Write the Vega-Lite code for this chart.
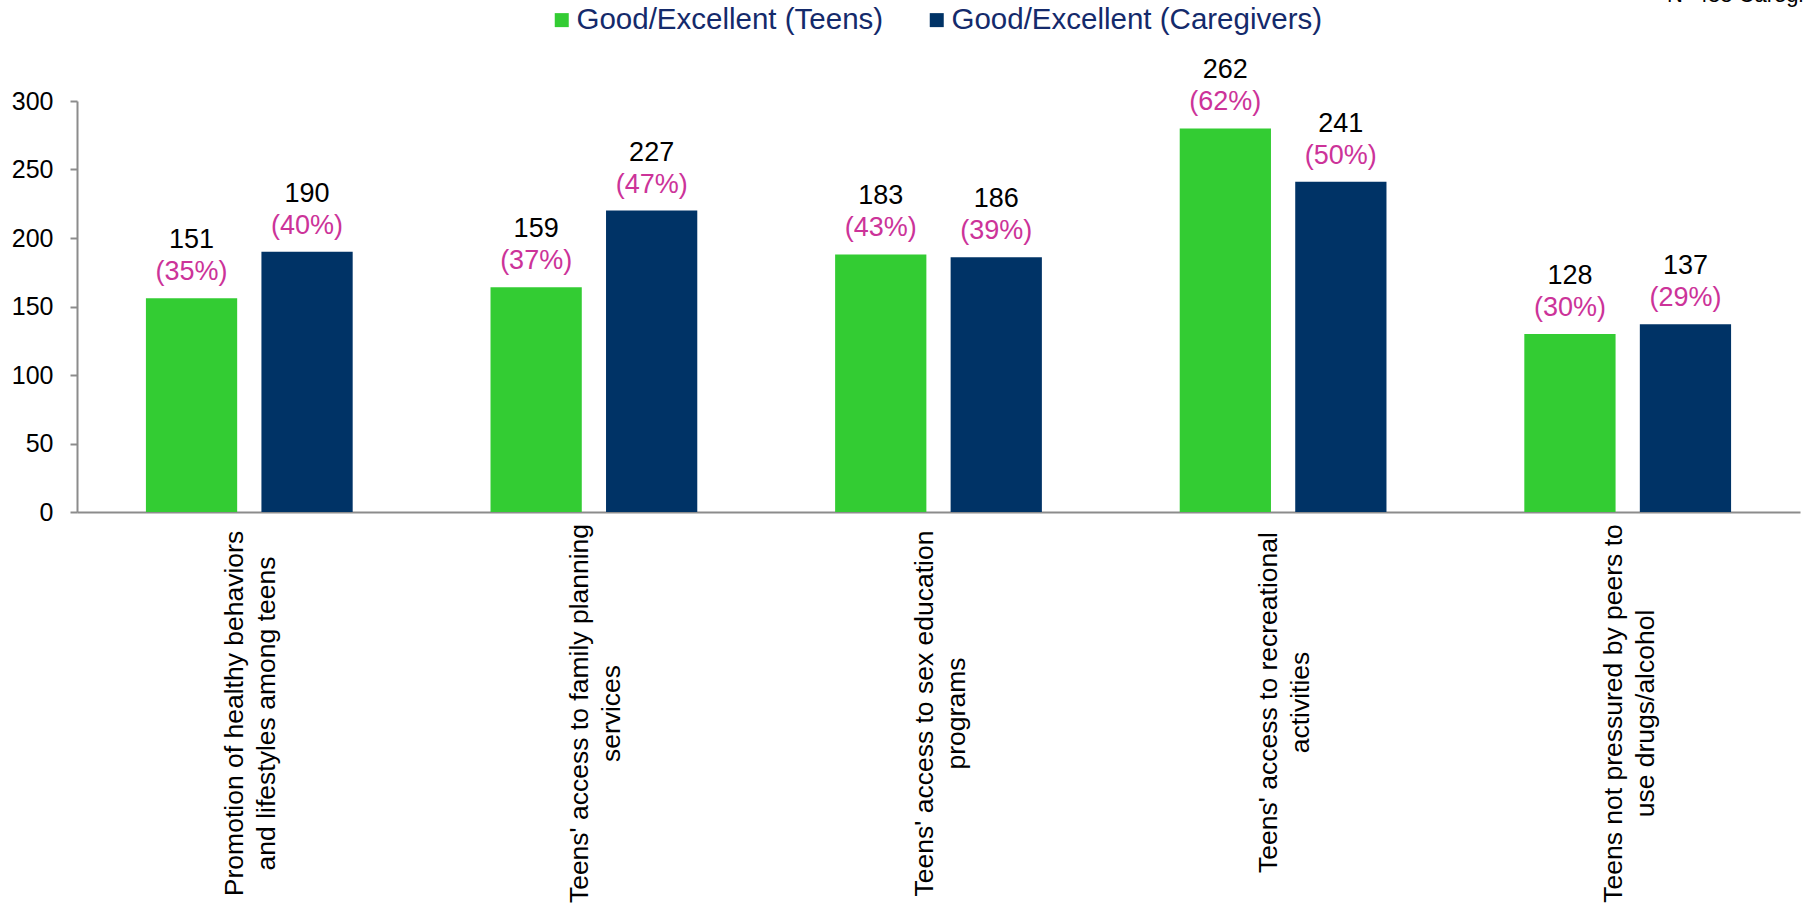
{
  "$schema": "https://vega.github.io/schema/vega-lite/v6.json",
  "width": 1723,
  "height": 411,
  "autosize": {"type": "none"},
  "padding": {"left": 77, "top": 101, "right": 6, "bottom": 401},
  "config": {
    "view": {"stroke": null},
    "font": "Liberation Sans, Arial, sans-serif"
  },
  "title": {
    "text": "N=488 Caregivers",
    "anchor": "end",
    "frame": "group",
    "align": "right",
    "dx": 45,
    "offset": -19,
    "fontSize": 22,
    "fontWeight": "normal",
    "color": "black",
    "baseline": "alphabetic"
  },
  "data": {
    "values": [
      {"category": "Promotion of healthy behaviors|and lifestyles among teens", "series": "Good/Excellent (Teens)", "value": 156, "n": "151", "pct": "(35%)"},
      {"category": "Promotion of healthy behaviors|and lifestyles among teens", "series": "Good/Excellent (Caregivers)", "value": 190, "n": "190", "pct": "(40%)"},
      {"category": "Teens' access to family planning|services", "series": "Good/Excellent (Teens)", "value": 164, "n": "159", "pct": "(37%)"},
      {"category": "Teens' access to family planning|services", "series": "Good/Excellent (Caregivers)", "value": 220, "n": "227", "pct": "(47%)"},
      {"category": "Teens' access to sex education|programs", "series": "Good/Excellent (Teens)", "value": 188, "n": "183", "pct": "(43%)"},
      {"category": "Teens' access to sex education|programs", "series": "Good/Excellent (Caregivers)", "value": 186, "n": "186", "pct": "(39%)"},
      {"category": "Teens' access to recreational|activities", "series": "Good/Excellent (Teens)", "value": 280, "n": "262", "pct": "(62%)"},
      {"category": "Teens' access to recreational|activities", "series": "Good/Excellent (Caregivers)", "value": 241, "n": "241", "pct": "(50%)"},
      {"category": "Teens not pressured by peers to|use drugs/alcohol", "series": "Good/Excellent (Teens)", "value": 130, "n": "128", "pct": "(30%)"},
      {"category": "Teens not pressured by peers to|use drugs/alcohol", "series": "Good/Excellent (Caregivers)", "value": 137, "n": "137", "pct": "(29%)"}
    ]
  },
  "encoding": {
    "x": {
      "field": "category",
      "type": "nominal",
      "sort": [
        "Promotion of healthy behaviors|and lifestyles among teens",
        "Teens' access to family planning|services",
        "Teens' access to sex education|programs",
        "Teens' access to recreational|activities",
        "Teens not pressured by peers to|use drugs/alcohol"
      ],
      "scale": {"paddingInner": 0.4, "paddingOuter": 0.2},
      "axis": {
        "title": null,
        "ticks": false,
        "domainColor": "#8c8c8c",
        "domainWidth": 2,
        "labelAngle": -90,
        "labelAlign": "center",
        "labelBaseline": "middle",
        "labelFontSize": 26.5,
        "labelLineHeight": 32,
        "labelColor": "black",
        "labelLimit": 0,
        "labelOverlap": false,
        "labelBound": false,
        "labelOffset": -14,
        "labelPadding": {
          "condition": {"test": "indexof(datum.value, 'recreational') >= 0", "value": 190},
          "value": 201
        },
        "labelExpr": "split(datum.label, '|')"
      }
    },
    "xOffset": {
      "field": "series",
      "type": "nominal",
      "sort": ["Good/Excellent (Teens)", "Good/Excellent (Caregivers)"],
      "scale": {"paddingInner": 0.21, "paddingOuter": 0}
    },
    "y": {
      "field": "value",
      "type": "quantitative",
      "scale": {"domain": [0, 300], "nice": false},
      "axis": {
        "title": null,
        "values": [0, 50, 100, 150, 200, 250, 300],
        "grid": false,
        "domainColor": "#8c8c8c",
        "domainWidth": 2,
        "tickColor": "#8c8c8c",
        "tickWidth": 2,
        "tickSize": 7,
        "labelFontSize": 25,
        "labelColor": "black",
        "labelPadding": 17
      }
    }
  },
  "layer": [
    {
      "mark": {"type": "bar"},
      "encoding": {
        "color": {
          "field": "series",
          "type": "nominal",
          "sort": ["Good/Excellent (Teens)", "Good/Excellent (Caregivers)"],
          "scale": {"domain": ["Good/Excellent (Teens)", "Good/Excellent (Caregivers)"], "range": ["#33cc33", "#003366"]},
          "legend": {
            "orient": "none",
            "legendX": 470,
            "legendY": -96,
            "direction": "horizontal",
            "columns": 2,
            "title": null,
            "symbolType": "square",
            "symbolSize": 196,
            "symbolStrokeWidth": 0,
            "labelFontSize": 29.5,
            "labelColor": "#142a6b",
            "labelOffset": 0,
            "columnPadding": 38,
            "labelLimit": 0,
            "padding": 0
          }
        }
      }
    },
    {
      "mark": {"type": "text", "dy": -50, "baseline": "alphabetic", "fontSize": 27, "color": "black"},
      "encoding": {"text": {"field": "n", "type": "nominal"}}
    },
    {
      "mark": {"type": "text", "dy": -18, "baseline": "alphabetic", "fontSize": 27, "color": "#cc3399"},
      "encoding": {"text": {"field": "pct", "type": "nominal"}}
    }
  ]
}
